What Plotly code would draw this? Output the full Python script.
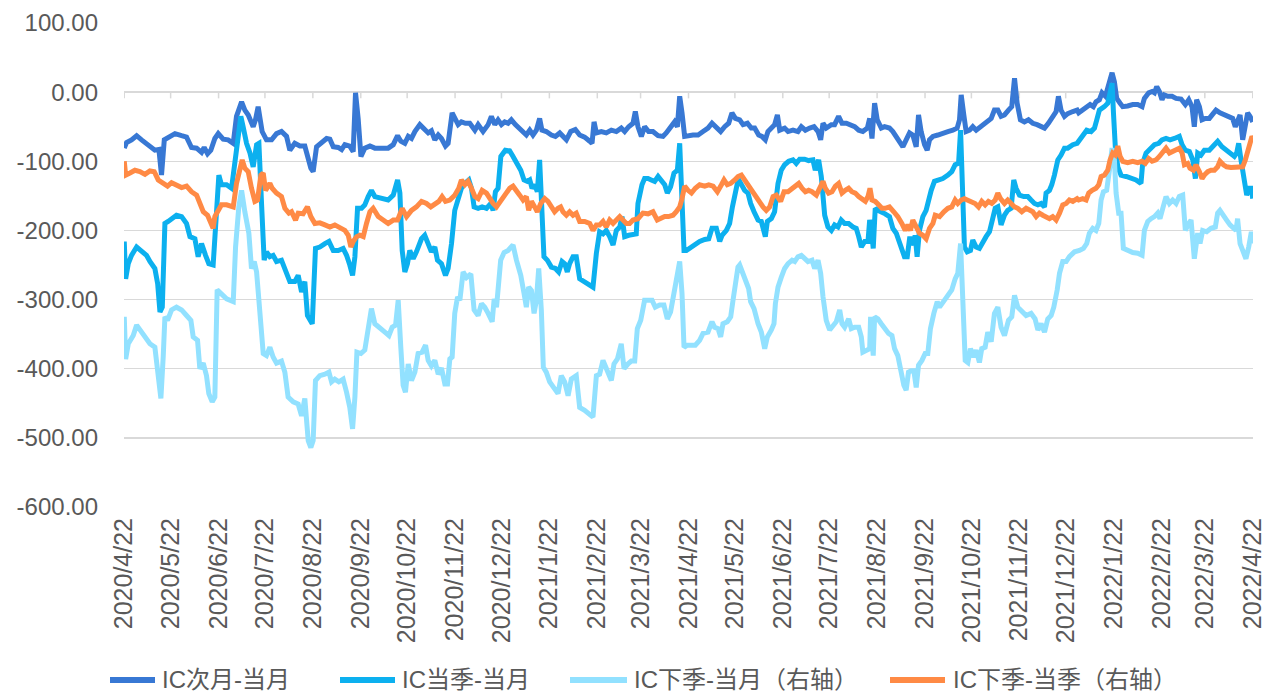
import pandas as pd
import plotly.graph_objects as go

START = "2020-04-22"

tick_labels = ["2020/4/22", "2020/5/22", "2020/6/22", "2020/7/22", "2020/8/22", "2020/9/22",
               "2020/10/22", "2020/11/22", "2020/12/22", "2021/1/22", "2021/2/22", "2021/3/22",
               "2021/4/22", "2021/5/22", "2021/6/22", "2021/7/22", "2021/8/22", "2021/9/22",
               "2021/10/22", "2021/11/22", "2021/12/22", "2022/1/22", "2022/2/22", "2022/3/22",
               "2022/4/22"]

y_tick_labels = ["100.00", "0.00", "-100.00", "-200.00", "-300.00", "-400.00", "-500.00", "-600.00"]

series_names = ["IC次月-当月", "IC当季-当月", "IC下季-当月（右轴）", "IC下季-当季（右轴）"]

# (days since 2020-04-22, value)
ic_next_month = [
    (0, -81), (1.5, -73), (4.7, -69), (8, -63), (11.2, -69), (15.5, -76), (19.8, -84), (22.4, -83), (24.1, -120),
    (25.9, -69), (28.4, -65), (32.8, -60), (37.1, -63), (40.3, -65), (43.5, -80), (46.8, -81), (50, -87), (51.7, -80),
    (53.9, -89), (56, -84), (58.6, -67), (60.8, -60), (64, -68), (67.2, -69), (70.5, -74), (72.6, -35), (75.9, -14),
    (78, -26), (80.2, -33), (83.4, -50), (84.9, -40), (86.6, -21), (89.2, -57), (92, -69), (95.3, -69), (98.5, -60),
    (101.7, -57), (105, -64), (107.1, -84), (110.3, -74), (113.6, -78), (116.8, -78),
    (120.7, -110), (122.2, -115), (124.4, -79), (127.6, -74), (130.9, -67), (133, -68), (135.2, -79), (138.4, -80),
    (140.6, -83), (142.7, -76), (145.9, -78), (148.1, -86), (149.6, -1), (151.3, -38), (153.1, -93), (155.6, -81),
    (158.9, -78), (162.1, -81), (166.4, -81), (170.7, -81), (174, -76), (176.8, -63), (178.9, -71), (181.5, -74),
    (183.7, -64), (185.8, -67), (188, -57), (191.2, -47), (193.4, -52), (196.6, -59), (198.7, -56), (200.9, -69),
    (203.1, -62), (205.2, -67), (207.8, -78), (209.5, -74), (212.1, -30), (213.8, -38), (216, -47), (218.1, -43),
    (220.7, -45), (223.5, -45), (226.8, -55), (228.9, -47), (232.1, -57), (235.4, -47), (237.5, -35), (239.7, -47),
    (241.8, -40),
    (244, -47), (246.1, -43), (248.3, -45), (250.4, -40), (253, -47), (255.8, -52), (258, -57), (260.1, -62),
    (262.3, -55), (264.4, -62), (266.6, -55), (268.7, -38), (270.2, -55), (273, -57), (276.3, -62), (278.9, -64),
    (281.7, -59), (283.8, -63), (286, -69), (288.8, -57), (291.8, -54), (294.6, -62), (297.8, -65), (301.1, -71),
    (302.6, -74), (303.9, -43), (305.4, -59), (308.6, -57), (311.8, -59), (315.1, -55), (318.3, -57), (321.5, -52),
    (323.7, -57), (326.3, -50), (329.1, -45), (330.6, -28), (332.3, -50), (334.5, -64), (336.6, -50), (339.2, -57),
    (342, -57), (345.3, -63), (348.5, -64), (350.6, -59), (352.8, -52), (356, -43), (357.8, -50), (359.3, -6),
    (360.8, -30), (362.5, -64),
    (367.9, -62), (371.2, -62), (374.4, -57), (377.6, -52), (380.2, -45), (383, -52), (385.8, -57), (388.4, -50),
    (391, -45), (393.1, -30), (395.3, -38), (398.1, -40), (400.3, -47), (403.1, -45), (405.6, -52), (407.8, -52),
    (410.4, -62), (412.5, -64), (414.7, -69), (416.4, -57), (419, -52), (420.7, -47), (422.5, -33), (424, -55),
    (427.2, -52), (429.4, -57), (432.6, -55), (435.8, -57), (438, -50), (440.6, -55), (443.4, -52), (446.2, -50),
    (448.8, -57), (450.5, -69), (452, -45), (454.1, -52), (457.4, -47), (459.5, -47), (462.1, -35), (464.3, -45),
    (467.1, -45), (469.9, -47), (472.5, -50), (475.1, -55), (477.8, -57), (480.7, -52), (482.2, -38), (483.7, -67),
    (485.4, -16), (487.1, -40), (489.7, -52),
    (491.8, -50), (495, -52), (497.2, -57), (499.4, -64), (501.5, -69), (503.7, -79), (505.8, -69), (508, -59),
    (510.1, -62), (512.3, -79), (513.8, -33), (515.5, -57), (517.7, -76), (519.4, -84), (520.9, -69), (523.1, -64),
    (526.3, -62), (529.5, -59), (532.8, -57), (536, -55), (538.8, -52), (540.3, -40), (541.4, -4), (543.1, -33),
    (544.6, -57), (546.8, -55), (548.9, -50), (551.1, -55), (554.3, -50), (557.5, -45), (560.8, -38), (562.9, -26),
    (565.1, -26), (567.2, -35), (569.4, -33), (572, -26), (574.1, -21), (575.9, 20), (577.6, -16), (579.7, -40),
    (582.3, -43), (584.9, -40), (587.7, -45), (590.5, -47), (593.1, -50), (595.3, -52), (597.8, -45), (600, -38),
    (602.8, -28), (604.3, -6), (606, -26), (608.2, -35), (610.3, -31), (613.6, -28), (616.4, -26),
    (617.4, -30), (620, -26), (622.6, -21), (624.8, -18), (626.9, -21), (628.6, -14), (630.8, -11), (632.5, -1),
    (634.7, -6), (636.8, 13), (639, 28), (640.5, 15), (642, -9), (644.2, -16), (645.9, -21), (649.1, -20),
    (652.4, -18), (655.6, -18), (658.4, -21), (659.9, -9), (662.7, -1), (664.9, 1), (666.4, -1), (667.9, 8),
    (669.6, 1), (671.3, -11), (672.8, -4), (675, -6), (677.8, -6), (680.4, -9), (683.6, -10), (686.4, -18),
    (688.6, -11), (690.7, -21), (692.2, -50), (693.7, -11), (695.5, -21), (697.2, -40), (699.3, -38), (701.9, -38),
    (704.1, -33), (706.2, -26), (708.8, -30), (711.6, -33), (714.4, -35), (717, -38), (718.7, -50), (720.2, -43),
    (721.8, -33), (723.5, -69), (725.2, -47), (726.7, -30), (728.2, -35), (730, -43),
]

ic_quarter_month = [
    (0, -216), (0.9, -270), (2.6, -248), (4.7, -236), (8, -224), (11.2, -231), (14.4, -236), (16.6, -245),
    (19.8, -255), (21.6, -277), (23.1, -318), (24.6, -311), (26.3, -190), (28.4, -187), (30.6, -183), (33.8, -178),
    (37.1, -180), (40.3, -190), (42.5, -209), (45.7, -212), (47.8, -238), (50, -219), (52.6, -236), (54.7, -248),
    (57.5, -250), (59.7, -175), (61.2, -120), (62.9, -134), (66.2, -134), (69.4, -139), (71.6, -98), (73.7, -59),
    (75.4, -35), (76.9, -50), (79.1, -74), (81.3, -88), (83.4, -108), (85.6, -76), (87.1, -74), (88.8, -161),
    (90.5, -243), (92, -231), (94.2, -238), (96.3, -236), (98.5, -245), (101.7, -243), (103.9, -255), (107.1, -274),
    (110.3, -274), (112.5, -265), (114.7, -289), (116.8, -274), (118.5, -323),
    (121.6, -335), (123.7, -226), (126.5, -224), (129.8, -219), (132.4, -216), (135.2, -229), (138.4, -229),
    (141.6, -226), (143.8, -236), (145.9, -250), (147.7, -265), (149.2, -238), (150.9, -168), (153.5, -168),
    (155.6, -163), (157.8, -151), (159.9, -142), (162.1, -151), (166.4, -154), (170.7, -156), (174, -149),
    (176.8, -127), (178.3, -146), (179.8, -229), (181.5, -260), (183.2, -248), (184.7, -229), (186.9, -241),
    (189, -231), (192.3, -212), (194.4, -207), (196.6, -221), (198.7, -231), (200.9, -224), (202.6, -243),
    (205.2, -248), (207.8, -265), (209.5, -255), (211.7, -219), (213.8, -171), (216, -151), (218.1, -139),
    (220.3, -132), (222.9, -127), (224.6, -139), (226.3, -166), (228.9, -168), (231.5, -166), (234.3, -168),
    (237.1, -161), (238.6, -171), (240.1, -144), (241.8, -139), (243.6, -93),
    (246.5, -84), (249.3, -85), (251.5, -93), (253.7, -103), (256.5, -113), (258.6, -127), (260.8, -129),
    (262.3, -127), (263.8, -139), (265.5, -134), (267.2, -144), (268.7, -98), (269.8, -146), (271.5, -238),
    (273.7, -243), (276.3, -253), (278.9, -255), (281, -260), (283.2, -245), (284.9, -248), (286.6, -260),
    (288.1, -248), (290.3, -238), (292.4, -238), (294.6, -270), (297.8, -274), (301.1, -279), (303.2, -282),
    (305.4, -233), (307.5, -202), (309.7, -205), (311.8, -200), (314, -209), (316.2, -221), (318.3, -200),
    (320.5, -195), (322, -180), (323.7, -209), (326.3, -207), (329.1, -205), (331.2, -205), (332.3, -161),
    (334.9, -134), (336.6, -125), (338.8, -125), (340.9, -127), (343.1, -129), (345.3, -122), (347.4, -127),
    (349.6, -134), (351.3, -146), (353.4, -137), (355.6, -117), (357.8, -113), (359.3, -74), (360.8, -156),
    (362.1, -229), (363.6, -229),
    (366.9, -224), (369.4, -219), (372.2, -216), (375.5, -213), (378.1, -212), (380.2, -197), (383, -197),
    (385.2, -216), (386.7, -207), (389.5, -200), (391.6, -190), (393.4, -166), (394.9, -151), (396.6, -132),
    (398.1, -129), (399.6, -134), (401.3, -142), (403.5, -146), (405.2, -161), (407.4, -173), (410, -185),
    (412.1, -187), (414.7, -209), (416, -187), (418.6, -183), (420.7, -173), (422.9, -132), (425, -113),
    (427.2, -105), (429.8, -100), (432.6, -98), (434.7, -103), (436.9, -97), (440.1, -97), (442.7, -99),
    (445.5, -98), (447, -113), (449.2, -98), (450.9, -122), (453.1, -178), (455.2, -195), (457.4, -200),
    (459.5, -192), (461.7, -195), (463.8, -185), (466, -190), (468.6, -190), (471.4, -195), (473.5, -197),
    (475.1, -209), (476.8, -224), (479, -216), (481.1, -216), (482.2, -185), (483.2, -195), (484.5, -226),
    (485.8, -168),
    (487.5, -171), (489.7, -173), (492.2, -176), (495, -180), (497.2, -197), (499.4, -204), (501.5, -216),
    (503, -226), (504.7, -238), (506.5, -238), (508, -212), (509.1, -212), (510.8, -221), (511.6, -207),
    (512.9, -238), (514.4, -200), (516.6, -180), (518.7, -171), (520.3, -156), (522, -142), (524.1, -129),
    (526.3, -127), (529.5, -125), (532.8, -120), (535.3, -115), (537.5, -105), (539.7, -103), (541, -55),
    (542, -137), (543.5, -224), (545.3, -231), (547.4, -229), (548.9, -214), (551.1, -224), (553.2, -226),
    (555.4, -216), (557.5, -209), (559.7, -202), (561.9, -185), (563.4, -168), (565.1, -166), (567.2, -192),
    (569.4, -178), (571.5, -171), (573.7, -168), (575.4, -127), (576.9, -139), (579.1, -149), (581.9, -151),
    (584.5, -151), (586.6, -156), (588.8, -161), (591, -163), (593.1, -161), (595.3, -166), (596.3, -146),
    (598.5, -142), (600, -134), (601.7, -120), (603.9, -98), (606, -91), (608.2, -81), (610.3, -81), (613.6, -76),
    (616.4, -74),
    (617.9, -69), (620.5, -62), (622.6, -55), (625.4, -57), (627.6, -52), (629.1, -40), (630.8, -26), (634, -21),
    (636.2, -16), (637.7, -1), (639, 13), (639.9, -30), (641.1, -79), (642.7, -108), (644.8, -120), (648.1, -122),
    (651.3, -125), (654.5, -127), (657.7, -132), (658.8, -103), (661, -88), (663.6, -81), (666.4, -76),
    (669.2, -74), (671.3, -69), (673.9, -67), (676.5, -69), (679.3, -67), (682.5, -64), (684.3, -76), (686.4, -84),
    (689, -86), (691.2, -98), (692.9, -125), (694.4, -88), (696.5, -91), (698.7, -84), (701.9, -84), (705.2, -76),
    (707.3, -71), (710.1, -79), (712.7, -84), (715.9, -88), (718.1, -93), (719.6, -88), (720.9, -74), (722.4, -98),
    (724.6, -127), (726.1, -149), (727.8, -139), (729.1, -139), (730, -154),
]

ic_next_quarter_month = [
    (0, -325), (0.9, -386), (2.6, -364), (5.8, -352), (8, -337), (11.2, -347), (14.4, -357), (16.6, -364),
    (19.8, -369), (22, -407), (23.7, -443), (25.2, -383), (26.3, -325), (28, -330), (30.6, -315), (33.8, -311),
    (37.1, -315), (40.3, -323), (43.1, -330), (44.6, -354), (47.4, -359), (48.9, -400), (51.1, -392), (53.2, -410),
    (54.7, -436), (56.9, -448), (58.6, -441), (60.1, -286), (62.9, -292), (66.2, -299), (70.5, -303), (72, -224),
    (74.1, -166), (75.9, -142), (78, -173), (80.6, -204), (82.3, -255), (84.1, -245), (85.6, -260), (87.7, -315),
    (89.9, -378), (92, -381), (94.2, -369), (96.3, -383), (98.5, -392), (101.7, -389), (103.9, -405), (106, -441),
    (109.3, -448), (112.5, -451), (114.7, -468), (116.8, -443), (119, -504),
    (120.7, -514), (122.2, -504), (123.7, -417), (126.5, -410), (129.8, -408), (132.4, -405), (134.1, -419),
    (136.2, -415), (138.8, -419), (141.6, -415), (143.8, -434), (145.9, -456), (147.7, -487), (149.2, -441),
    (150.5, -376), (153.1, -378), (155.6, -373), (157.8, -340), (159.9, -313), (162.1, -335), (165.3, -340),
    (168.6, -347), (171.2, -352), (173.3, -340), (175.5, -337), (177.2, -301), (178.9, -369), (180.4, -424),
    (181.9, -434), (183.7, -393), (185.8, -417), (188, -405), (190.1, -378), (192.7, -376), (194.9, -366),
    (196.6, -388), (198.7, -396), (200.9, -388), (203.1, -408), (205.2, -399), (207.4, -422), (209.1, -422),
    (210.6, -386), (212.1, -383), (213.8, -320), (215.6, -296), (217.1, -301), (219.2, -260), (221.4, -268),
    (224.2, -263), (226.3, -315), (228.9, -323), (231.1, -306), (233.2, -311), (235.4, -320), (238, -332),
    (239.3, -299), (240.8, -311),
    (243.5, -243), (245.7, -232), (248.3, -229), (251.5, -221), (253.7, -243), (256.5, -265), (258.6, -291),
    (260.1, -311), (261.6, -282), (263.4, -287), (265.1, -320), (266.6, -301), (268.1, -255), (269.8, -315),
    (271.1, -398), (273, -405), (275.2, -419), (278.4, -429), (280.6, -436), (282.7, -410), (284.9, -419),
    (287.1, -439), (289.2, -415), (292.4, -410), (294.6, -456), (297.8, -460), (301.1, -465), (303.2, -470),
    (305.4, -410), (307.5, -408), (309.7, -388), (311.8, -400), (315.1, -417), (316.8, -393), (319, -386),
    (321.5, -364), (323.3, -400), (325.9, -393), (328, -389), (330.2, -389), (331.9, -342), (334.1, -330),
    (336.6, -301), (338.8, -301), (341.4, -301), (343.5, -311), (346.3, -308), (349.1, -308), (351.3, -328),
    (353.4, -318), (355.6, -291), (357.8, -272), (359.3, -245), (360.8, -291), (362.1, -369), (364.2, -366),
    (366.9, -366), (369.4, -366), (372.2, -359), (374.4, -349), (377.6, -347), (380.2, -332), (381.9, -340),
    (384.1, -342), (385.8, -354), (387.3, -335), (390.1, -332), (392.3, -325), (393.8, -301), (395.3, -272),
    (397, -253), (398.1, -250), (400.3, -262), (402.4, -274), (403.9, -284), (405.2, -303), (407.4, -313),
    (410, -335), (412.1, -347), (414.3, -371), (416, -354), (418.6, -344), (420.3, -335), (421.2, -306),
    (422.9, -282), (425, -268), (427.2, -255), (429.4, -248), (432, -243), (433.7, -245), (435.8, -238),
    (438, -236), (440.1, -241), (442.3, -245), (444.9, -243), (446.6, -255), (448.8, -243), (450.5, -262),
    (452, -296), (454.1, -330), (456.3, -344), (458.5, -337), (460.6, -332), (462.8, -315), (464.3, -335),
    (466, -340), (468.6, -328), (470.3, -342), (472.5, -340), (475.1, -340), (476.8, -354), (477.8, -376),
    (480, -373), (482.2, -371), (482.8, -325), (484.5, -381), (485.4, -325), (487.5, -328),
    (489.7, -335), (492.2, -344), (494.4, -349), (496.6, -352), (498.3, -371), (500.4, -381), (502.6, -407),
    (504.3, -424), (505.8, -431), (507.3, -405), (509.1, -403), (510.8, -403), (512.3, -427), (513.8, -395),
    (516, -388), (518.1, -378), (519.8, -378), (521.5, -342), (523.7, -320), (525.9, -303), (527.4, -311),
    (530.2, -301), (532.8, -294), (535.3, -286), (537.5, -270), (539.2, -262), (541, -219), (542.5, -291),
    (544, -388), (545.7, -391), (547.4, -371), (549.6, -383), (551.1, -373), (553.2, -391), (554.7, -371),
    (556.9, -369), (558.6, -347), (560.8, -361), (562.9, -320), (565.1, -311), (567.2, -340), (569.4, -352),
    (572, -330), (574.1, -325), (575.9, -294), (578, -311), (580.6, -318), (583.4, -323), (586.6, -320),
    (589.2, -328), (591, -344), (593.1, -335), (595.3, -347), (597.4, -328), (599.6, -323), (601.3, -311),
    (603.5, -286), (605, -262), (607.1, -245), (609.3, -245), (611.4, -238), (614.7, -231),
    (617.9, -229), (620.5, -226), (622.6, -219), (624.3, -204), (626.5, -197), (628.6, -200), (630.4, -190),
    (631.9, -156), (633.4, -144), (635.5, -142), (637.3, -113), (639, -81), (640.5, -98), (641.6, -146),
    (643.3, -175), (644.8, -175), (646.3, -226), (649.1, -229), (652.4, -232), (655.6, -233), (658.4, -236),
    (659.9, -200), (662.1, -187), (664.2, -183), (666.4, -180), (668.5, -175), (670, -183), (671.8, -168),
    (673.9, -151), (676.1, -161), (678.2, -156), (680.4, -161), (682.5, -151), (684.7, -149), (686.4, -200),
    (688.6, -190), (690.1, -185), (692.2, -241), (694.4, -204), (695.9, -219), (697.6, -200), (700.2, -202),
    (703, -197), (705.8, -195), (707.3, -175), (708.8, -171), (710.5, -178), (713.1, -185), (715.3, -192),
    (717.4, -197), (719.2, -200), (720.2, -183), (721.8, -219), (723.5, -229), (725.6, -241), (727.4, -224),
    (729.1, -202), (730, -219),
]

ic_next_quarter_quarter = [
    (0, -100), (0.9, -120), (3.7, -117), (6.9, -113), (10.1, -115), (13.4, -119), (16.6, -114), (19.4, -115),
    (22, -127), (25.2, -132), (28, -136), (30.6, -131), (33.8, -134), (37.1, -138), (40.3, -136), (43.5, -144),
    (46.8, -149), (48.9, -161), (51.1, -173), (53.9, -178), (56, -190), (57.5, -197), (58.6, -180), (60.8, -171),
    (62.9, -163), (66.2, -163), (70.5, -166), (72.6, -132), (74.8, -108), (76.3, -98), (78, -110), (80.2, -115),
    (82.3, -139), (84.5, -158), (86.2, -156), (88.4, -120), (89.9, -117), (91.4, -142), (94.2, -132), (95.7, -139),
    (98.5, -146), (101.7, -151), (103.9, -168), (106.5, -175), (108.2, -173), (110.8, -185), (112.5, -175),
    (115.7, -176), (118.5, -166),
    (120.7, -180), (123.3, -190), (126.5, -189), (129.8, -192), (133, -195), (136.2, -192), (139.5, -197),
    (142.7, -200), (144.9, -207), (146.6, -224), (148.1, -216), (150.3, -209), (152.4, -207), (154.6, -209),
    (156.7, -190), (158.9, -173), (161, -168), (164.3, -180), (167.5, -185), (170.7, -190), (174, -185),
    (176.8, -185), (179.8, -168), (182.6, -180), (185.8, -171), (189, -166), (192.3, -158), (195.5, -161),
    (198.3, -166), (200.9, -161), (203.5, -158), (205.6, -151), (207.8, -158), (210.6, -156), (213.8, -149),
    (216.4, -139), (218.1, -127), (220.3, -134), (222.4, -129), (224.6, -139), (226.8, -151), (228.9, -154),
    (231.5, -142), (234.3, -146), (236.5, -154), (238.6, -161), (240.8, -166),
    (244, -156), (246.5, -149), (249.3, -139), (251.5, -136), (253.7, -144), (255.8, -149), (258, -156),
    (260.1, -151), (261.6, -171), (263.4, -158), (265.5, -166), (267.2, -173), (269.4, -161), (272, -154),
    (274.1, -158), (276.3, -166), (278.4, -173), (280.6, -168), (282.3, -166), (283.8, -173), (286, -178),
    (288.1, -173), (290.3, -178), (292.4, -175), (294.6, -187), (297.8, -187), (301.1, -190), (303.2, -200),
    (305.4, -192), (307.5, -192), (309.7, -187), (311.8, -195), (314, -185), (316.2, -190), (318.3, -185),
    (320.5, -180), (322.6, -185), (324.8, -190), (326.9, -190), (329.1, -185), (332.3, -183), (335.5, -175),
    (338.8, -176), (342, -173), (344.8, -185), (347.4, -183), (349.6, -180), (352.1, -180), (355, -178),
    (357.1, -173), (359.3, -166), (360.8, -154), (362.5, -136), (364.7, -142),
    (366.9, -146), (369.4, -139), (372.2, -134), (375.5, -136), (378.1, -134), (380.9, -136), (383.7, -144),
    (386.3, -134), (388, -127), (390.1, -134), (392.3, -132), (394.9, -127), (397, -122), (399.2, -120),
    (401.3, -127), (403.5, -134), (405.6, -142), (407.8, -149), (410.4, -158), (413.2, -166), (415.3, -171),
    (417.5, -166), (419.7, -151), (421.8, -149), (424.6, -158), (426.8, -144), (429.4, -144), (432, -139),
    (434.1, -136), (436.3, -132), (438.4, -139), (440.6, -144), (442.7, -142), (444.9, -144), (447.7, -149),
    (449.8, -139), (452, -129), (453.5, -139), (455.6, -146), (457.8, -144), (460, -136), (462.1, -132),
    (464.3, -146), (466.4, -142), (468.6, -139), (470.7, -144), (472.9, -146), (475.1, -151), (477.2, -154),
    (479.4, -158), (481.1, -151), (482.4, -139), (483.7, -156), (485.8, -158), (488, -163), (490.1, -168),
    (492.2, -168), (495, -166), (497.8, -173), (500.4, -180), (503, -190), (505.2, -200), (506.9, -192),
    (508.6, -200), (510.1, -185), (512.3, -197), (514.4, -204), (516.6, -207), (518.7, -212), (520.9, -197),
    (523.1, -190), (524.6, -178), (527.4, -180), (530.2, -173), (532.8, -168), (535.3, -166), (537.5, -156),
    (539.2, -161), (541.4, -156), (543.5, -154), (546.1, -156), (548.3, -158), (550.4, -161), (552.6, -166),
    (554.7, -158), (556.9, -163), (559, -158), (561.2, -161), (563.4, -156), (565.1, -146), (566.8, -154),
    (569.4, -161), (571.5, -156), (573.7, -161), (575.9, -166), (578, -168), (580.6, -173), (583.4, -168),
    (585.6, -171), (587.7, -173), (589.9, -180), (592, -175), (594.2, -178), (596.3, -180), (598.5, -183),
    (600.6, -180), (602.8, -185), (605, -175), (607.1, -163), (609.3, -161), (611.4, -156), (613.6, -158),
    (616.4, -154),
    (617.4, -156), (620, -154), (622.2, -156), (623.9, -146), (626.1, -142), (628.6, -139), (630.4, -134),
    (631.9, -122), (634, -120), (636.2, -113), (637.7, -98), (639.4, -88), (641.1, -91), (642.7, -78),
    (644.2, -93), (645.9, -100), (649.1, -102), (652.4, -100), (655.6, -102), (658.4, -100), (660.5, -103),
    (662.7, -96), (664.9, -100), (667.4, -98), (669.6, -93), (671.8, -88), (673.9, -81), (676.1, -88),
    (678.2, -86), (680.4, -84), (682.5, -81), (684.3, -88), (685.8, -105), (687.9, -103), (689.4, -110),
    (691.6, -113), (693.3, -105), (695.5, -115), (697.2, -125), (698.7, -120), (700.9, -115), (703, -113),
    (705.2, -113), (707.3, -108), (708.8, -100), (711, -105), (713.1, -108), (715.9, -109), (718.7, -109),
    (721.3, -109), (723.5, -108), (725.2, -98), (726.7, -88), (728.2, -76), (729.5, -64), (730, -66),
]

colors = ["#3878d4", "#0cb0ef", "#92e1ff", "#ff8a45"]
all_series = [ic_next_month, ic_quarter_month, ic_next_quarter_month, ic_next_quarter_quarter]

start = pd.Timestamp(START)
TEXT = "#595959"
GRID = "#d9d9d9"
FONT = "Liberation Sans, Arial, Noto Sans CJK SC, sans-serif"

fig = go.Figure()
for name, pts, col in zip(series_names, all_series, colors):
    days = [p[0] for p in pts]
    vals = [p[1] for p in pts]
    xs = start + pd.to_timedelta(days, unit="D")
    fig.add_trace(go.Scatter(x=xs, y=vals, mode="lines", name=name,
                             line=dict(color=col, width=5), showlegend=False,
                             hoverinfo="skip"))

tick_vals = pd.to_datetime(tick_labels, format="%Y/%m/%d")
y_tick_vals = [float(t) for t in y_tick_labels]

# small tick marks hanging below the zero line
shapes = []
for tv in tick_vals:
    shapes.append(dict(type="line", xref="x", yref="y", x0=tv, x1=tv, y0=0, y1=-9,
                       line=dict(color=GRID, width=1.5), layer="below"))

# Page body margin is removed by a post script, so figure pixels == page pixels.
FIG_W, FIG_H = 1263, 693
PL, PT, PW, PH = 124, 23, 1129, 484
PB = PT + PH
legend_px = [(110, 155, 160), (340, 395, 400), (570, 627, 632), (890, 945, 951)]
LEG_Y = (PB - 680) / PH
annotations = []
for (x0, x1, xt), name, col in zip(legend_px, series_names, colors):
    shapes.append(dict(type="line", xref="paper", yref="paper",
                       x0=(x0 - PL) / PW, x1=(x1 - PL) / PW, y0=LEG_Y, y1=LEG_Y,
                       line=dict(color=col, width=6)))
    annotations.append(dict(xref="paper", yref="paper", x=(xt - PL) / PW, y=LEG_Y,
                            text=name, showarrow=False, xanchor="left", yanchor="middle",
                            font=dict(size=24, color=TEXT, family=FONT)))

pad = pd.Timedelta(hours=4)
fig.update_layout(
    width=FIG_W, height=FIG_H,
    margin=dict(l=PL, r=FIG_W - PL - PW, t=PT, b=FIG_H - PB, autoexpand=False),
    paper_bgcolor="white", plot_bgcolor="white",
    font=dict(family=FONT, color=TEXT, size=24),
    shapes=shapes, annotations=annotations,
    xaxis=dict(type="date", range=[tick_vals[0] - pad, tick_vals[-1] + pad],
               tickmode="array", tickvals=tick_vals, ticktext=tick_labels,
               tickangle=-90, showgrid=False, zeroline=False, showline=False,
               ticks="", ticklabelstandoff=5, ticklabeloverflow="allow", automargin=False,
               tickfont=dict(size=25, color=TEXT)),
    yaxis=dict(range=[-600, 100], tickmode="array", tickvals=y_tick_vals, ticktext=y_tick_labels,
               showgrid=True, gridcolor=GRID, gridwidth=1.5,
               zeroline=True, zerolinecolor=GRID, zerolinewidth=1.5,
               showline=False, ticks="", ticklabelstandoff=25, automargin=False,
               tickfont=dict(size=24, color=TEXT)),
)

fig.write_html("out.html",
               config={"displayModeBar": False, "staticPlot": True},
               post_script="document.body.style.margin='0px';document.body.style.overflow='hidden';")
